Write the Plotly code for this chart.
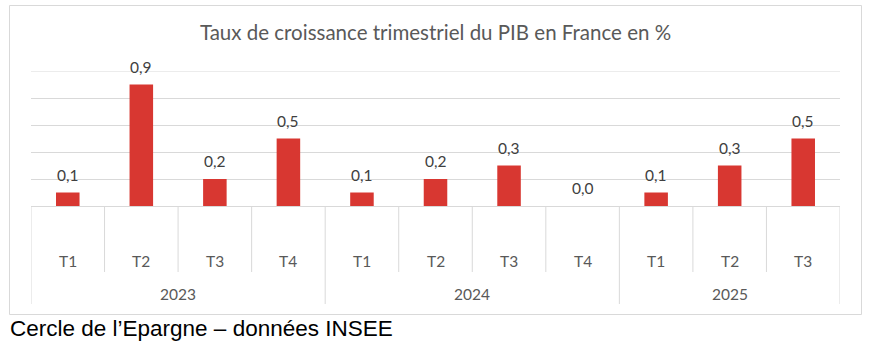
import plotly.graph_objects as go

years = ["2023", "2023", "2023", "2023", "2024", "2024", "2024", "2024", "2025", "2025", "2025"]
quarters = ["T1", "T2", "T3", "T4", "T1", "T2", "T3", "T4", "T1", "T2", "T3"]
values = [0.1, 0.9, 0.2, 0.5, 0.1, 0.2, 0.3, 0.0, 0.1, 0.3, 0.5]
y_max = 1.0
title = "Taux de croissance trimestriel du PIB en France en %"
caption = "Cercle de l\u2019Epargne \u2013 données INSEE"

W, H = 870, 352
L, R, T, B = 31, 30, 71, 146
PW, PH = W - L - R, H - T - B

def px_x(px):
    return (px - L) / PW

def px_y(py):
    return (H - B - py) / PH

BAR = "#D83731"
GRID = "#D9D9D9"
FONT = "Lato"

n = len(values)
xs = list(range(n))

fig = go.Figure()
fig.add_trace(go.Bar(x=xs, y=values, marker=dict(color=BAR, line=dict(width=0)),
                     hoverinfo="skip"))

annotations = []
for i, v in enumerate(values):
    annotations.append(dict(x=i, y=v, xref="x", yref="y", text=f"{v:.1f}".replace(".", ","),
                            showarrow=False, yanchor="bottom", yshift=7,
                            font=dict(family=FONT, size=15.5, color="#404040")))
    annotations.append(dict(x=i, y=px_y(261), xref="x", yref="paper", text=quarters[i],
                            showarrow=False, yanchor="middle",
                            font=dict(family=FONT, size=15.5, color="#595959")))

# year groups
groups = []
for i, yv in enumerate(years):
    if not groups or groups[-1][0] != yv:
        groups.append([yv, i, i])
    else:
        groups[-1][2] = i
for yv, a, b in groups:
    annotations.append(dict(x=(a + b) / 2, y=px_y(294), xref="x", yref="paper", text=yv,
                            showarrow=False, yanchor="middle",
                            font=dict(family=FONT, size=15.5, color="#595959")))

annotations.append(dict(x=px_x(8), y=px_y(328), xref="paper", yref="paper", text=caption,
                        showarrow=False, xanchor="left", yanchor="middle",
                        font=dict(family="Liberation Sans", size=22.5, color="#000000")))

shapes = []
year_bounds = set([g[1] - 0.5 for g in groups] + [groups[-1][2] + 0.5])
for k in range(n + 1):
    xb = k - 0.5
    bottom = 304 if xb in year_bounds else 272
    shapes.append(dict(type="line", xref="x", yref="paper", x0=xb, x1=xb,
                       y0=0, y1=px_y(bottom), line=dict(color=GRID, width=1)))
# top gridline (at the range maximum)
shapes.append(dict(type="line", xref="paper", yref="y", x0=0, x1=1, y0=y_max, y1=y_max,
                   line=dict(color=GRID, width=1), layer="below"))
shapes.append(dict(type="rect", xref="paper", yref="paper", x0=px_x(9.5), x1=px_x(861.5),
                   y0=px_y(5.5), y1=px_y(314.5), line=dict(color=GRID, width=1), layer="below"))

fig.update_layout(
    width=W, height=H,
    margin=dict(l=L, r=R, t=T, b=B),
    paper_bgcolor="white", plot_bgcolor="white",
    showlegend=False,
    bargap=0.68,
    title=dict(text=title, x=0.5, xref="paper", y=1 - 33 / H, yanchor="middle", xanchor="center",
               font=dict(family=FONT, size=20.5, color="#595959")),
    xaxis=dict(range=[-0.5, n - 0.5], showticklabels=False, showgrid=False, zeroline=False,
               showline=False, ticks=""),
    yaxis=dict(range=[0, y_max], tick0=0, dtick=0.2, showticklabels=False, showgrid=True,
               gridcolor=GRID, gridwidth=1, zeroline=True, zerolinecolor=GRID, zerolinewidth=1,
               ticks=""),
    annotations=annotations,
    shapes=shapes,
)

fig.write_html("out.html")
